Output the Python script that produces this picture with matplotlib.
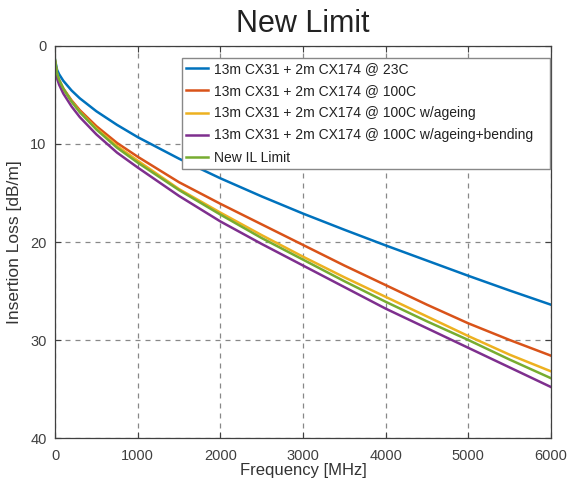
import matplotlib.pyplot as plt

plt.rcParams['font.family'] = ['Liberation Sans', 'DejaVu Sans']

# frequency points [MHz]
freq = [0, 25, 50, 100, 200, 300, 500, 750, 1000, 1500, 2000, 2500,
        3000, 3500, 4000, 4500, 5000, 5500, 6000]

# insertion loss [dB/m]
il_23c = [1.4, 2.44, 2.89, 3.55, 4.54, 5.34, 6.66, 8.05, 9.3, 11.5, 13.5,
          15.35, 17.1, 18.75, 20.35, 21.9, 23.45, 24.95, 26.4]
il_100c = [1.6, 2.92, 3.5, 4.33, 5.55, 6.55, 8.18, 9.89, 11.3, 13.9, 16.1,
           18.2, 20.3, 22.4, 24.4, 26.4, 28.3, 30.0, 31.6]
il_ageing = [1.5, 2.89, 3.5, 4.37, 5.65, 6.7, 8.42, 10.2, 11.7, 14.6, 17.0,
             19.3, 21.5, 23.6, 25.6, 27.6, 29.6, 31.5, 33.2]
il_bending = [1.9, 3.33, 3.96, 4.85, 6.17, 7.26, 9.02, 10.88, 12.4, 15.3,
              17.9, 20.2, 22.4, 24.6, 26.8, 28.8, 30.8, 32.8, 34.8]
il_limit = [1.4, 2.83, 3.46, 4.35, 5.67, 6.76, 8.52, 10.38, 11.9, 14.7,
            17.2, 19.6, 21.8, 24.0, 26.1, 28.1, 30.0, 32.0, 33.9]

labels = ['13m CX31 + 2m CX174 @ 23C',
          '13m CX31 + 2m CX174 @ 100C',
          '13m CX31 + 2m CX174 @ 100C w/ageing',
          '13m CX31 + 2m CX174 @ 100C w/ageing+bending',
          'New IL Limit']
colors = ['#0072BD', '#D95319', '#EDB120', '#7E2F8E', '#77AC30']

fig = plt.figure(figsize=(5.69, 4.84), dpi=100)
ax = fig.add_axes([0.0967, 0.095, 0.8717, 0.81])

series = [il_23c, il_100c, il_ageing, il_bending, il_limit]
for ys, lab, col in zip(series, labels, colors):
    ax.plot(freq, ys, color=col, lw=1.8, label=lab)

ax.set_xlim(0, 6000)
ax.set_ylim(40, 0)
ax.set_xticks(range(0, 6001, 1000))
ax.set_yticks([0, 10, 20, 30, 40])
ax.grid(True, ls=(0, (4, 4)), color='#888888', lw=0.9)
ax.tick_params(direction='in', top=True, right=True, labelsize=10.5,
               colors='#404040', length=4)
ax.tick_params(axis='x', pad=8)
ax.tick_params(axis='y', pad=6)
for sp in ax.spines.values():
    sp.set_color('#404040')
    sp.set_linewidth(0.9)

ax.set_xlabel('Frequency [MHz]', fontsize=12, color='#333333', labelpad=0)
ax.set_ylabel('Insertion Loss [dB/m]', fontsize=12.5, color='#333333', labelpad=6)
ax.set_title('New Limit', fontsize=22, color='#222222', pad=10)

leg = ax.legend(loc='upper left', bbox_to_anchor=(0.256, 0.969, 0.742, 0),
                mode='expand', fontsize=10, frameon=True, fancybox=False,
                framealpha=1, edgecolor='#888888', handlelength=1.58,
                handletextpad=0.45, labelspacing=0.58, borderpad=0.3,
                borderaxespad=0)
for t in leg.get_texts():
    t.set_color('#222222')

plt.savefig('out.png', dpi=100)
